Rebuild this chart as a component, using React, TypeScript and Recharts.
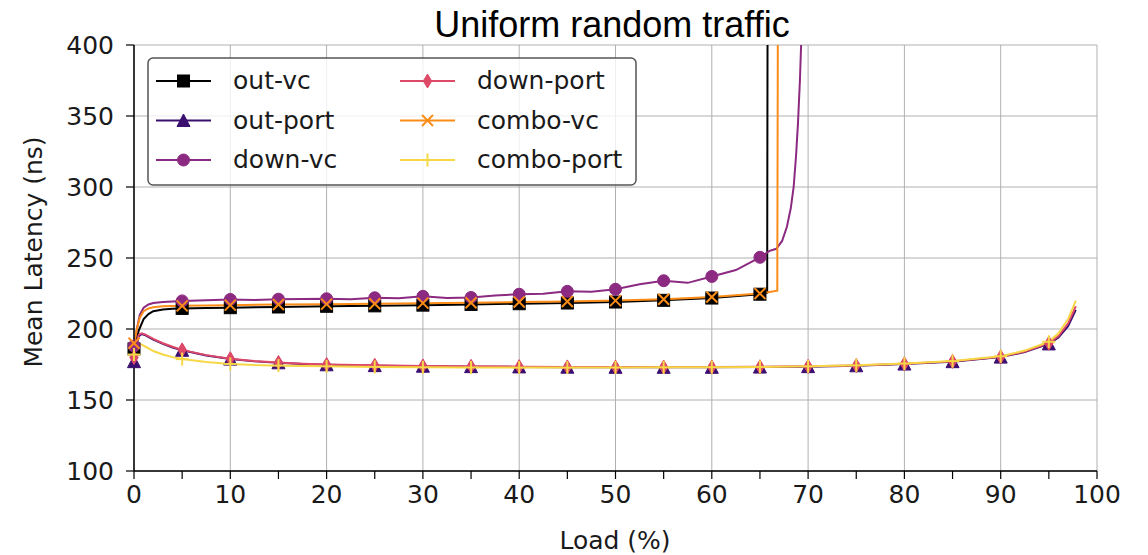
import { LineChart, Line, XAxis, YAxis, CartesianGrid, Legend } from 'recharts';

type Pt = [number, number];
type MarkerKind = 'square' | 'triangle' | 'circle' | 'diamond' | 'x' | 'plus';

// load (%) -> mean latency (ns); markers sit on every 5% step
const outVc: Pt[] = [
  [0, 186], [0.5, 199], [1, 207], [1.5, 210.5], [2, 212.5], [3, 213.8], [4, 214.2],
  [5, 214.5], [7.5, 214.8], [10, 215], [15, 215.5], [20, 216], [25, 216.3], [30, 216.8],
  [35, 217.3], [40, 217.8], [45, 218.3], [50, 219], [55, 220.2], [60, 221.8], [65, 224.5],
  [65.75, 225.5], [65.85, 700],
];

const outPort: Pt[] = [
  [0, 177], [0.25, 188], [0.5, 195], [0.8, 196.5], [1.2, 195.5], [2, 192.5], [3, 189.5],
  [4, 187], [5, 185], [7.5, 181.3], [10, 178.8], [12.5, 177.2], [15, 176.2], [17.5, 175.4],
  [20, 174.8], [25, 174.2], [30, 173.8], [35, 173.5], [40, 173.3], [45, 173.1], [50, 173],
  [55, 173], [60, 173], [65, 173.2], [70, 173.5], [75, 174.1], [80, 175.3], [85, 177],
  [90, 180.2], [92.5, 183.8], [95, 189.5], [96, 194], [97, 202], [97.8, 213.5],
];

const downVc: Pt[] = [
  [0, 188], [0.3, 200], [0.6, 210], [1, 215], [1.5, 217.3], [2, 218.3], [3, 219],
  [5, 219.8], [7.5, 220.2], [10, 220.8], [12.5, 220.4], [15, 221], [17.5, 221.2],
  [20, 221.3], [22.5, 221], [25, 222], [27.5, 221.6], [30, 223], [32.5, 221.8], [35, 222.2],
  [37.5, 223.6], [40, 224.5], [42.5, 224.8], [45, 226.5], [47.5, 226.2], [50, 228],
  [52.5, 231.5], [55, 234], [57.5, 232.5], [60, 237], [62.5, 241.5], [65, 250.5], [66, 255],
  [66.7, 256.5], [67.3, 262], [67.8, 272], [68.2, 285], [68.5, 300], [68.75, 322],
  [68.95, 345], [69.15, 375], [69.3, 405],
];

const downPort: Pt[] = [
  [0, 180], [0.25, 190], [0.5, 196], [0.8, 197], [1.2, 196], [2, 193], [3, 190],
  [4, 187.5], [5, 185.3], [7.5, 181.6], [10, 179.1], [12.5, 177.4], [15, 176.4], [17.5, 175.6],
  [20, 175], [25, 174.4], [30, 174], [35, 173.7], [40, 173.5], [45, 173.3], [50, 173.2],
  [55, 173.2], [60, 173.2], [65, 173.4], [70, 173.7], [75, 174.3], [80, 175.5], [85, 177.2],
  [90, 180.4], [92.5, 184.1], [95, 190], [96, 195], [97, 204], [97.8, 216],
];

const comboVc: Pt[] = [
  [0, 190], [0.3, 200], [0.6, 208], [1, 212.5], [1.5, 214.5], [2, 215.3], [3, 216],
  [5, 216.3], [7.5, 216.6], [10, 216.8], [15, 217.2], [20, 217.5], [25, 217.8], [30, 218.2],
  [35, 218.5], [40, 219], [45, 219.4], [50, 220], [55, 221], [60, 222.5], [65, 225],
  [66.8, 227], [66.95, 700],
];

const comboPort: Pt[] = [
  [0, 182], [0.25, 187], [0.5, 189.5], [0.8, 189], [1.2, 187.5], [2, 184.5], [3, 182],
  [4, 180.2], [5, 178.8], [7.5, 176.7], [10, 175.4], [12.5, 174.6], [15, 174.2], [20, 173.7],
  [25, 173.3], [30, 173], [35, 172.9], [40, 172.8], [45, 172.8], [50, 172.9], [55, 173],
  [60, 173.1], [65, 173.3], [70, 173.7], [75, 174.4], [80, 175.7], [85, 177.4], [90, 180.8],
  [92.5, 184.8], [95, 191], [96, 197], [97, 207], [97.8, 220],
];

const loadTicks = [0, 5, 10, 15, 20, 25, 30, 35, 40, 45, 50, 55, 60, 65, 70, 75, 80, 85, 90, 95, 100];
const gridLoads = [0, 10, 20, 30, 40, 50, 60, 70, 80, 90, 100];
const latencyTicks = [100, 150, 200, 250, 300, 350, 400];

const series: { name: string; color: string; marker: MarkerKind; points: Pt[] }[] = [
  { name: 'out-vc', color: '#000000', marker: 'square', points: outVc },
  { name: 'out-port', color: '#3b0f70', marker: 'triangle', points: outPort },
  { name: 'down-vc', color: '#8c2981', marker: 'circle', points: downVc },
  { name: 'down-port', color: '#de4968', marker: 'diamond', points: downPort },
  { name: 'combo-vc', color: '#fb8c17', marker: 'x', points: comboVc },
  { name: 'combo-port', color: '#f6d746', marker: 'plus', points: comboPort },
];

const FONT = '"DejaVu Sans", sans-serif';
const TEXT = '#1a1a1a';

const Marker = ({ kind, cx, cy, color }: { kind: MarkerKind; cx: number; cy: number; color: string }) => {
  switch (kind) {
    case 'square':
      return <rect x={cx - 6} y={cy - 6} width={12} height={12} fill={color} stroke={color} />;
    case 'triangle':
      return <polygon points={`${cx},${cy - 6.5} ${cx - 6.5},${cy + 6} ${cx + 6.5},${cy + 6}`} fill={color} stroke={color} />;
    case 'circle':
      return <circle cx={cx} cy={cy} r={6} fill={color} stroke={color} />;
    case 'diamond':
      return <polygon points={`${cx},${cy - 7} ${cx + 4.2},${cy} ${cx},${cy + 7} ${cx - 4.2},${cy}`} fill={color} stroke={color} />;
    case 'x':
      return (
        <g stroke={color} strokeWidth={2}>
          <line x1={cx - 5.5} y1={cy - 5.5} x2={cx + 5.5} y2={cy + 5.5} />
          <line x1={cx - 5.5} y1={cy + 5.5} x2={cx + 5.5} y2={cy - 5.5} />
        </g>
      );
    default:
      return (
        <g stroke={color} strokeWidth={2}>
          <line x1={cx - 6.5} y1={cy} x2={cx + 6.5} y2={cy} />
          <line x1={cx} y1={cy - 6.5} x2={cx} y2={cy + 6.5} />
        </g>
      );
  }
};

// only every 5% load gets a marker
const dotFor = (kind: MarkerKind, color: string, name: string) => (props: any) => {
  const { cx, cy, payload, index } = props;
  const key = `${name}-${index}`;
  if (cx == null || cy == null || payload.x % 5 !== 0) return <g key={key} />;
  return (
    <g key={key}>
      <Marker kind={kind} cx={cx} cy={cy} color={color} />
    </g>
  );
};

const LegendBox = () => {
  const rows = [24, 63.5, 103];
  const cols = [{ x0: 9, text: 86 }, { x0: 253, text: 330 }];
  return (
    <svg width={490} height={130}>
      <rect x={1} y={1} width={488} height={127} rx={5} fill="rgba(255,255,255,0.8)" stroke="#555" strokeWidth={1.5} />
      {series.map((s, i) => {
        const col = cols[Math.floor(i / 3)];
        const y = rows[i % 3];
        return (
          <g key={s.name}>
            <line x1={col.x0} y1={y} x2={col.x0 + 55} y2={y} stroke={s.color} strokeWidth={2} />
            <Marker kind={s.marker} cx={col.x0 + 27.5} cy={y} color={s.color} />
            <text x={col.text} y={y + 8} fontFamily={FONT} fontSize={25} fill={TEXT}>
              {s.name}
            </text>
          </g>
        );
      })}
    </svg>
  );
};

const toRows = (pts: Pt[]) => pts.map(([x, y]) => ({ x, y }));

export default function App() {
  return (
    <div style={{ position: 'absolute', left: 0, top: 0, background: '#fff' }}>
      <LineChart width={1148} height={555} margin={{ top: 45, right: 51, left: 44, bottom: 24 }}>
        <CartesianGrid stroke="#b0b0b0" strokeWidth={1} verticalValues={gridLoads} horizontalValues={latencyTicks} />
        <XAxis
          dataKey="x"
          type="number"
          domain={[0, 100]}
          ticks={loadTicks}
          interval={0}
          height={60}
          tickSize={8}
          tickMargin={6}
          tickFormatter={(v: number) => (v % 10 === 0 ? String(v) : '')}
          tick={{ fill: TEXT, fontSize: 25, fontFamily: FONT }}
          axisLine={{ stroke: '#000', strokeWidth: 1.5 }}
          tickLine={{ stroke: '#000', strokeWidth: 1.2 }}
        />
        <YAxis
          type="number"
          domain={[100, 400]}
          ticks={latencyTicks}
          interval={0}
          allowDataOverflow
          width={90}
          tickSize={8}
          tickMargin={12}
          tick={{ fill: TEXT, fontSize: 25, fontFamily: FONT }}
          axisLine={{ stroke: '#000', strokeWidth: 1.5 }}
          tickLine={{ stroke: '#000', strokeWidth: 1.2 }}
        />
        {/* top and right spines */}
        <XAxis xAxisId="top" orientation="top" type="number" domain={[0, 100]} height={0} tick={false} tickLine={false} axisLine={{ stroke: '#000', strokeWidth: 1.5 }} />
        <YAxis yAxisId="right" orientation="right" type="number" domain={[100, 400]} width={0} tick={false} tickLine={false} axisLine={{ stroke: '#000', strokeWidth: 1.5 }} />
        {series.map((s) => (
          <Line
            key={s.name}
            data={toRows(s.points)}
            dataKey="y"
            name={s.name}
            type="linear"
            stroke={s.color}
            strokeWidth={2}
            dot={dotFor(s.marker, s.color, s.name)}
            activeDot={false}
            isAnimationActive={false}
          />
        ))}
        <Legend
          layout="vertical"
          align="center"
          verticalAlign="middle"
          wrapperStyle={{ left: 147, top: 57, width: 490, height: 130 }}
          content={() => <LegendBox />}
        />
        <text x={612} y={37} textAnchor="middle" fontFamily='"Liberation Sans", Arial, sans-serif' fontSize={36} fill="#000">
          Uniform random traffic
        </text>
        <text x={615} y={549} textAnchor="middle" fontFamily={FONT} fontSize={25} fill={TEXT}>
          Load (%)
        </text>
        <text x={42} y={252} textAnchor="middle" transform="rotate(-90 42 252)" fontFamily={FONT} fontSize={25} fill={TEXT}>
          Mean Latency (ns)
        </text>
      </LineChart>
    </div>
  );
}
